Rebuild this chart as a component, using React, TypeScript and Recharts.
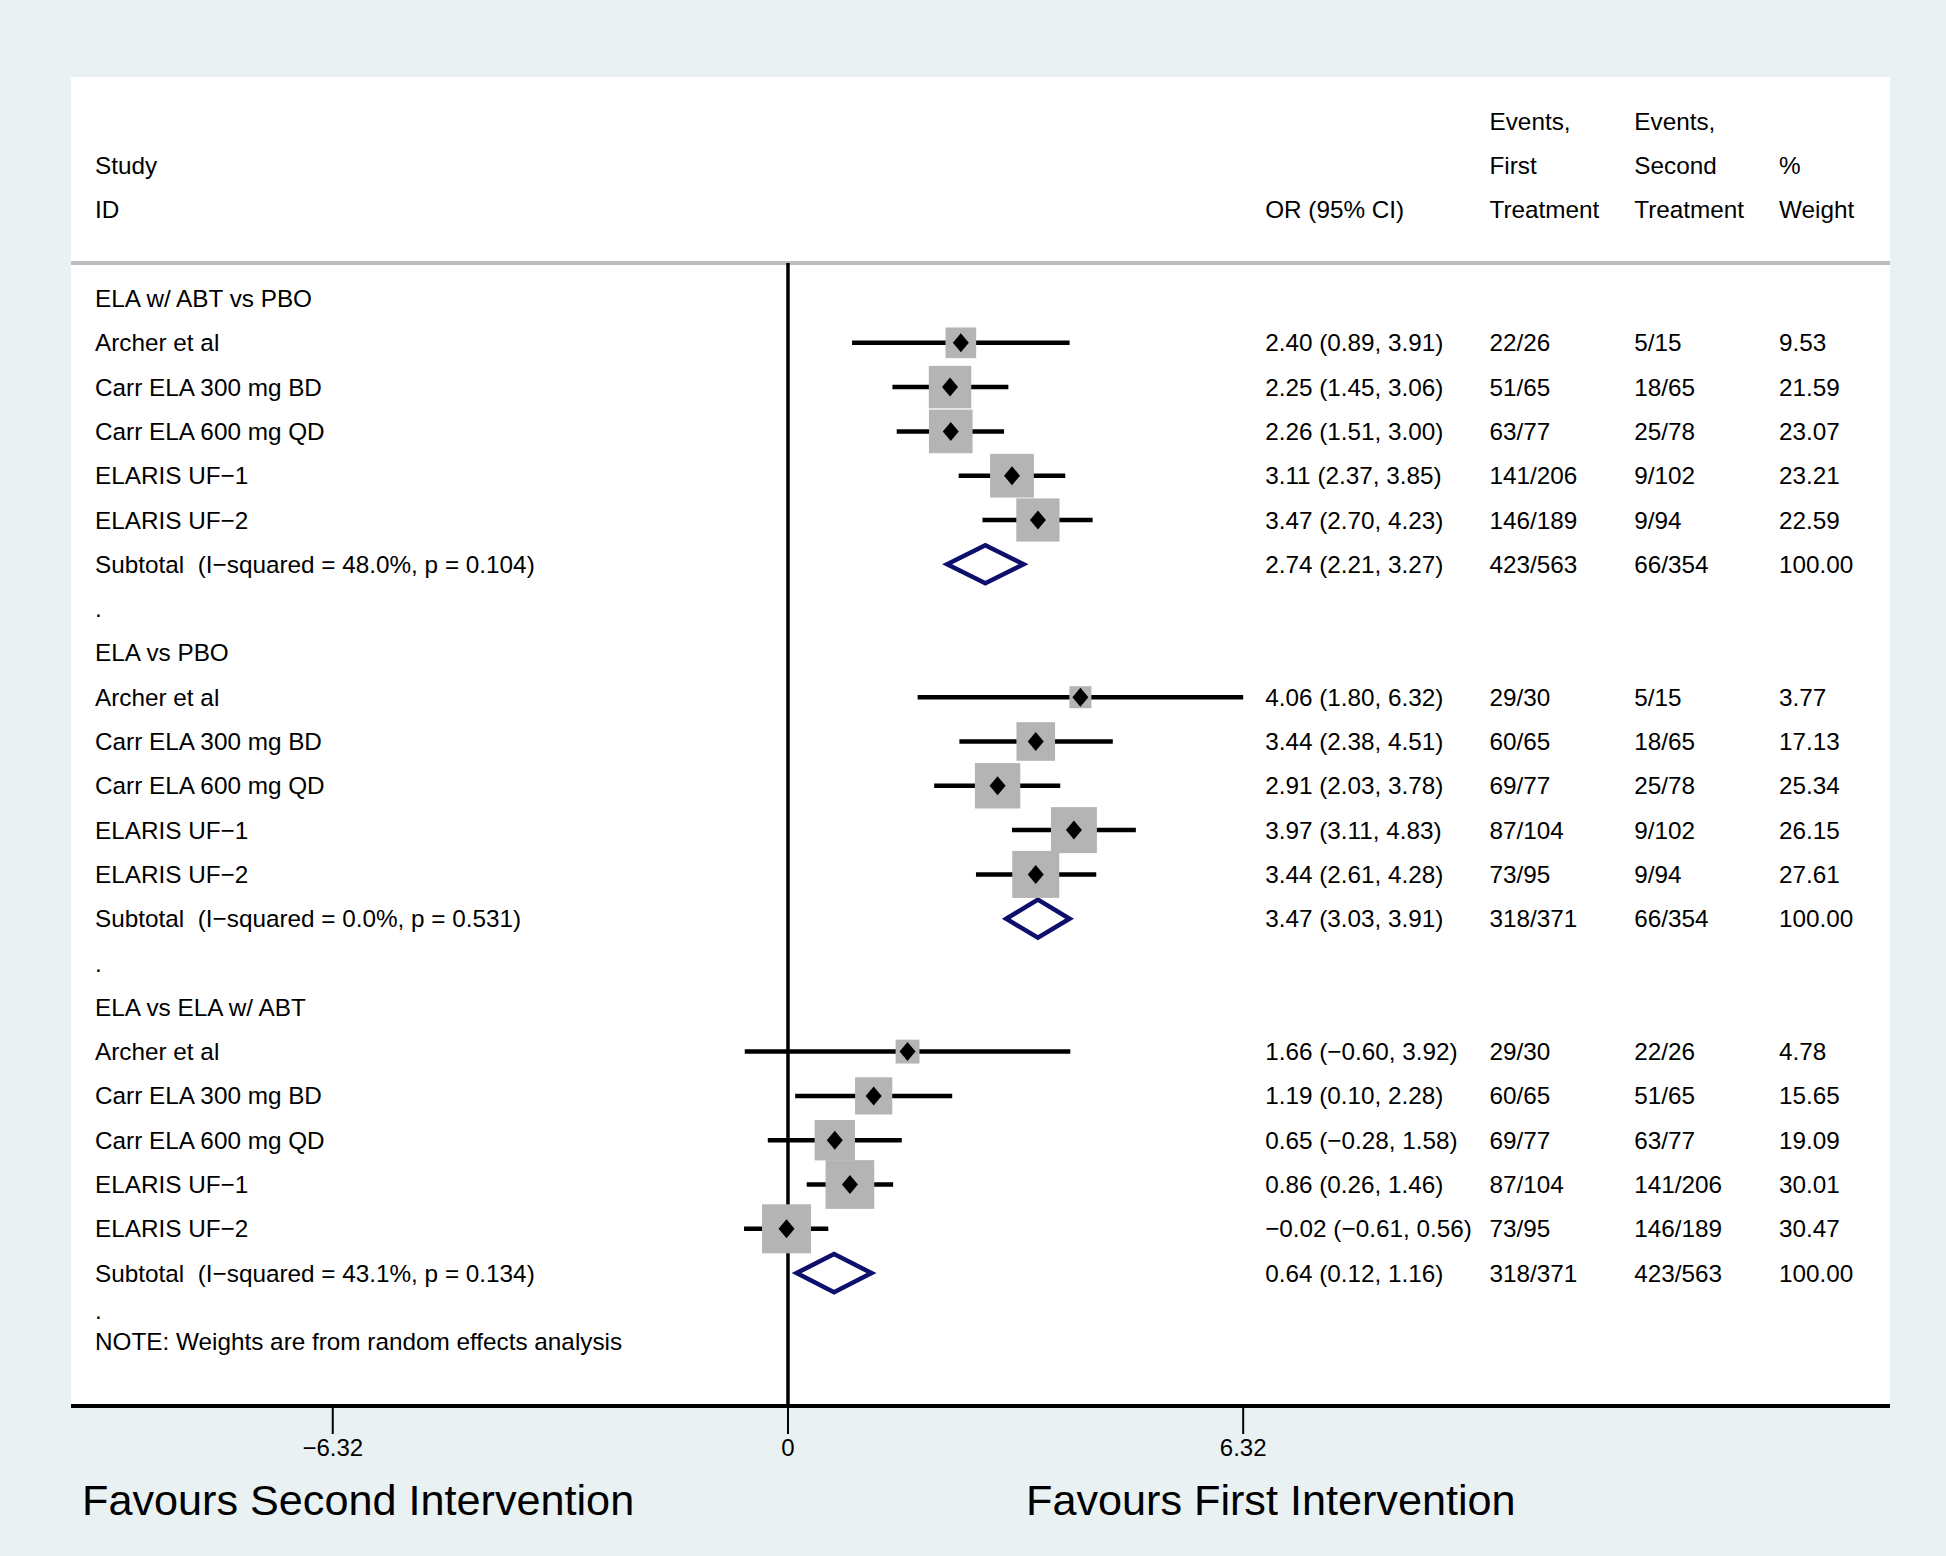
import React from 'react'
import { ComposedChart, XAxis, YAxis, Scatter, Line, ErrorBar, ReferenceLine, CartesianGrid } from 'recharts'

const FONT = '"Liberation Sans", Arial, Helvetica, sans-serif'

const groupTitles = ['ELA w/ ABT vs PBO', 'ELA vs PBO', 'ELA vs ELA w/ ABT']
const studyLabels = ['Archer et al', 'Carr ELA 300 mg BD', 'Carr ELA 600 mg QD', 'ELARIS UF\u22121', 'ELARIS UF\u22122']

// ELA w/ ABT vs PBO
const g1Or = [2.4, 2.25, 2.26, 3.11, 3.47]
const g1Lo = [0.89, 1.45, 1.51, 2.37, 2.7]
const g1Hi = [3.91, 3.06, 3.0, 3.85, 4.23]
const g1First = ['22/26', '51/65', '63/77', '141/206', '146/189']
const g1Second = ['5/15', '18/65', '25/78', '9/102', '9/94']
const g1Weight = [9.53, 21.59, 23.07, 23.21, 22.59]

// ELA vs PBO
const g2Or = [4.06, 3.44, 2.91, 3.97, 3.44]
const g2Lo = [1.8, 2.38, 2.03, 3.11, 2.61]
const g2Hi = [6.32, 4.51, 3.78, 4.83, 4.28]
const g2First = ['29/30', '60/65', '69/77', '87/104', '73/95']
const g2Second = ['5/15', '18/65', '25/78', '9/102', '9/94']
const g2Weight = [3.77, 17.13, 25.34, 26.15, 27.61]

// ELA vs ELA w/ ABT
const g3Or = [1.66, 1.19, 0.65, 0.86, -0.02]
const g3Lo = [-0.6, 0.1, -0.28, 0.26, -0.61]
const g3Hi = [3.92, 2.28, 1.58, 1.46, 0.56]
const g3First = ['29/30', '60/65', '69/77', '87/104', '73/95']
const g3Second = ['22/26', '51/65', '63/77', '141/206', '146/189']
const g3Weight = [4.78, 15.65, 19.09, 30.01, 30.47]

// subtotals, one per group
const subOr = [2.74, 3.47, 0.64]
const subLo = [2.21, 3.03, 0.12]
const subHi = [3.27, 3.91, 1.16]
const subFirst = ['423/563', '318/371', '318/371']
const subSecond = ['66/354', '66/354', '423/563']
const subI2 = ['48.0%', '0.0%', '43.1%']
const subP = ['0.104', '0.531', '0.134']

const xTicks = [-6.32, 0, 6.32]

// layout (x in data units, y in row units)
const X_DOMAIN: [number, number] = [-9.954, 15.3]
const Y_DOMAIN: [number, number] = [-5, 25]
const COL = { label: -9.62, or: 6.625, first: 9.74, second: 11.75, weight: 13.76 }
const SEP_ROW = -0.8
const ROWS_PER_GROUP = 8
const TEXT_SIZE = 24.3

const groups = [
  { or: g1Or, lo: g1Lo, hi: g1Hi, first: g1First, second: g1Second, weight: g1Weight },
  { or: g2Or, lo: g2Lo, hi: g2Hi, first: g2First, second: g2Second, weight: g2Weight },
  { or: g3Or, lo: g3Lo, hi: g3Hi, first: g3First, second: g3Second, weight: g3Weight },
]

const num = (v: number) => (v < 0 ? '\u2212' + Math.abs(v).toFixed(2) : v.toFixed(2))
const ciText = (o: number, l: number, h: number) => `${num(o)} (${num(l)}, ${num(h)})`

type Cell = { x: number; y: number; text: string }
const cells: Cell[] = []
const studies: { x: number; y: number; err: [number, number]; w: number }[] = []

cells.push({ x: COL.first, y: -4, text: 'Events,' })
cells.push({ x: COL.second, y: -4, text: 'Events,' })
cells.push({ x: COL.label, y: -3, text: 'Study' })
cells.push({ x: COL.first, y: -3, text: 'First' })
cells.push({ x: COL.second, y: -3, text: 'Second' })
cells.push({ x: COL.weight, y: -3, text: '%' })
cells.push({ x: COL.label, y: -2, text: 'ID' })
cells.push({ x: COL.or, y: -2, text: 'OR (95% CI)' })
cells.push({ x: COL.first, y: -2, text: 'Treatment' })
cells.push({ x: COL.second, y: -2, text: 'Treatment' })
cells.push({ x: COL.weight, y: -2, text: 'Weight' })

groups.forEach((g, gi) => {
  const start = gi * ROWS_PER_GROUP
  cells.push({ x: COL.label, y: start, text: groupTitles[gi] })
  studyLabels.forEach((name, si) => {
    const row = start + 1 + si
    cells.push({ x: COL.label, y: row, text: name })
    cells.push({ x: COL.or, y: row, text: ciText(g.or[si], g.lo[si], g.hi[si]) })
    cells.push({ x: COL.first, y: row, text: g.first[si] })
    cells.push({ x: COL.second, y: row, text: g.second[si] })
    cells.push({ x: COL.weight, y: row, text: g.weight[si].toFixed(2) })
    studies.push({ x: g.or[si], y: row, err: [g.or[si] - g.lo[si], g.hi[si] - g.or[si]], w: g.weight[si] })
  })
  const subRow = start + 6
  cells.push({ x: COL.label, y: subRow, text: `Subtotal  (I\u2212squared = ${subI2[gi]}, p = ${subP[gi]})` })
  cells.push({ x: COL.or, y: subRow, text: ciText(subOr[gi], subLo[gi], subHi[gi]) })
  cells.push({ x: COL.first, y: subRow, text: subFirst[gi] })
  cells.push({ x: COL.second, y: subRow, text: subSecond[gi] })
  cells.push({ x: COL.weight, y: subRow, text: '100.00' })
  cells.push({ x: COL.label, y: start + 7 - (gi === 2 ? 0.15 : 0), text: '.' })
})
cells.push({ x: COL.label, y: 23.55, text: 'NOTE: Weights are from random effects analysis' })

// pooled diamond outline: lo -> top -> hi -> bottom -> lo
const DIAMOND_HALF = 0.43
const diamondPath = (gi: number) => {
  const r = gi * ROWS_PER_GROUP + 6
  return [
    { x: subLo[gi], y: r },
    { x: subOr[gi], y: r - DIAMOND_HALF },
    { x: subHi[gi], y: r },
    { x: subOr[gi], y: r + DIAMOND_HALF },
    { x: subLo[gi], y: r },
    { x: subOr[gi], y: r - DIAMOND_HALF },
  ]
}

const zeroLine = [
  { x: 0, y: SEP_ROW },
  { x: 0, y: Y_DOMAIN[1] },
]

// box area grows with study weight
const boxSide = (w: number) => 7.4 + 7.54 * Math.sqrt(w)

function TextCell(p: any) {
  return (
    <text x={p.cx} y={p.cy} fontSize={TEXT_SIZE} fontFamily={FONT} fill="#000" dominantBaseline="central" style={{ whiteSpace: 'pre' }}>
      {p.payload.text}
    </text>
  )
}

function WeightBox(p: any) {
  const s = boxSide(p.payload.w)
  return <rect x={p.cx - s / 2} y={p.cy - s / 2} width={s} height={s} fill="#b4b4b4" />
}

function PointMarker(p: any) {
  const { cx, cy } = p
  return <polygon points={`${cx - 8},${cy} ${cx},${cy - 9.5} ${cx + 8},${cy} ${cx},${cy + 9.5}`} fill="#000" />
}

const tickFmt = (v: number) => (v < 0 ? '\u2212' + Math.abs(v).toFixed(2) : v === 0 ? '0' : v.toFixed(2))

export default function App() {
  return (
    <div style={{ position: 'absolute', left: 0, top: 0, width: 1946, height: 1556, background: '#e9f1f3', fontFamily: FONT }}>
      <ComposedChart width={1946} height={1556} margin={{ top: 77, right: 56, bottom: 90, left: 71 }}>
        <CartesianGrid horizontal={false} vertical={false} fill="#ffffff" stroke="none" />
        <XAxis
          type="number"
          dataKey="x"
          domain={X_DOMAIN}
          allowDataOverflow
          ticks={xTicks}
          tickFormatter={tickFmt}
          tick={{ fontSize: 24, fill: '#000', fontFamily: FONT }}
          tickLine={{ stroke: '#000', strokeWidth: 2 }}
          tickSize={28}
          tickMargin={5}
          axisLine={{ stroke: '#000', strokeWidth: 4 }}
          height={60}
        />
        <YAxis type="number" dataKey="y" domain={Y_DOMAIN} reversed hide allowDataOverflow />
        <ReferenceLine y={SEP_ROW} stroke="#bdbdbd" strokeWidth={4} />
        <Line data={zeroLine} dataKey="y" stroke="#000" strokeWidth={3.5} dot={false} isAnimationActive={false} />
        {groups.map((_, gi) => (
          <Line
            key={gi}
            data={diamondPath(gi)}
            dataKey="y"
            type="linear"
            stroke="#0e0e6c"
            strokeWidth={4.5}
            strokeLinejoin="miter"
            dot={false}
            isAnimationActive={false}
          />
        ))}
        <Scatter data={studies} shape={WeightBox} isAnimationActive={false} />
        <Scatter data={studies} shape={PointMarker} isAnimationActive={false}>
          <ErrorBar dataKey="err" direction="x" width={0} stroke="#000" strokeWidth={4.5} />
        </Scatter>
        <Scatter data={cells} shape={TextCell} isAnimationActive={false} />
      </ComposedChart>
      <div style={{ position: 'absolute', left: 82, top: 1479, fontSize: 43.2, lineHeight: 1, color: '#000', whiteSpace: 'nowrap' }}>
        Favours Second Intervention
      </div>
      <div style={{ position: 'absolute', left: 1026, top: 1479, fontSize: 43.2, lineHeight: 1, color: '#000', whiteSpace: 'nowrap' }}>
        Favours First Intervention
      </div>
    </div>
  )
}
